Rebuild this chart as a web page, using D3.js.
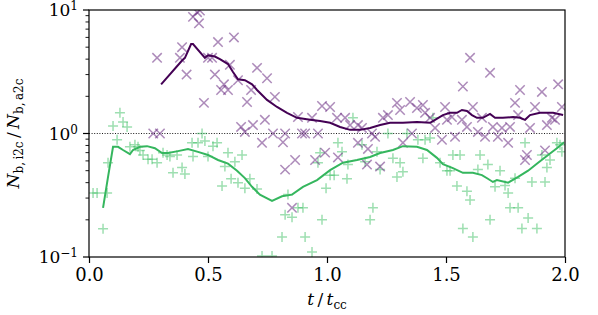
<!DOCTYPE html>
<html>
<head>
<meta charset="utf-8">
<script src="https://d3js.org/d3.v7.min.js"></script>
<style>
  body { margin: 0; background: #fff; }
  svg { display: block; font-family: "DejaVu Serif", serif; }
</style>
</head>
<body>
<div id="chart"></div>
<script>
// time in units of t_cc, ratio N_b,i2c / N_b,a2c
const purpleScatter = [
  [0.454, 9.6], [0.437, 8.8], [0.462, 7.8], [0.466, 9.9], [0.286, 4.1], [0.391, 5.0], [0.382, 4.1],
  [0.41, 3.0], [0.542, 5.5], [0.609, 6.0], [0.50, 4.1], [0.517, 4.1], [0.529, 3.0], [0.567, 2.5],
  [0.555, 2.25], [0.584, 2.25], [0.592, 3.6], [0.483, 1.77], [0.626, 2.7], [0.664, 1.8], [0.681, 2.25],
  [0.706, 3.4], [0.748, 2.8], [0.781, 1.98], [0.639, 1.13], [0.655, 1.03], [0.689, 1.17], [0.739, 1.29],
  [0.27, 1.0], [0.298, 1.0], [0.727, 0.84], [0.773, 1.0], [0.824, 1.0], [0.815, 0.85], [0.824, 0.51],
  [0.866, 0.61], [0.853, 0.25], [0.878, 1.36], [0.937, 1.34], [0.979, 1.67], [1.013, 1.64], [1.042, 1.34],
  [1.076, 1.34], [1.097, 1.17], [1.13, 1.17], [1.147, 1.11], [0.895, 1.0], [0.908, 1.0], [0.962, 1.0],
  [0.992, 0.70], [1.046, 0.64], [1.13, 0.84], [1.189, 1.0], [1.202, 0.94], [1.235, 1.34], [1.256, 1.41],
  [1.294, 1.77], [1.307, 1.55], [1.349, 1.80], [1.378, 1.61], [1.403, 1.70], [1.433, 1.34], [1.454, 1.11],
  [1.483, 0.89], [1.496, 1.64], [1.525, 1.36], [1.538, 0.94], [1.567, 1.29], [1.571, 2.4], [1.601, 4.1],
  [1.613, 1.64], [1.588, 1.13], [1.634, 1.03], [1.651, 1.34], [1.664, 0.94], [1.685, 3.1], [1.697, 1.13],
  [1.718, 0.94], [1.735, 1.11], [1.761, 0.84], [1.769, 1.13], [1.79, 1.77], [1.811, 2.25], [1.803, 1.41],
  [1.853, 1.11], [1.874, 1.64], [1.903, 2.17], [1.924, 1.17], [1.945, 1.34], [1.971, 2.5], [1.987, 1.64],
  [0.95, 0.61], [1.168, 0.56], [1.223, 0.54], [1.172, 0.75], [1.319, 0.84], [1.357, 1.0], [1.412, 1.47],
  [1.504, 1.29], [1.832, 0.61], [1.84, 0.67], [1.916, 0.73], [1.958, 1.29]
];

const purpleLine = [
  [0.303, 2.5], [0.391, 3.9], [0.403, 4.1], [0.429, 5.3], [0.437, 5.3], [0.487, 4.1], [0.50, 4.3],
  [0.529, 4.2], [0.55, 4.0], [0.584, 3.65], [0.605, 3.15], [0.626, 2.75], [0.655, 2.7], [0.685, 2.5],
  [0.706, 2.25], [0.748, 1.87], [0.79, 1.64], [0.832, 1.47], [0.874, 1.34], [0.929, 1.29], [0.971, 1.26],
  [1.013, 1.22], [1.055, 1.13], [1.097, 1.07], [1.139, 1.07], [1.181, 1.11], [1.223, 1.17], [1.265, 1.22],
  [1.319, 1.22], [1.378, 1.24], [1.433, 1.22], [1.454, 1.29], [1.487, 1.41], [1.517, 1.47], [1.546, 1.47],
  [1.567, 1.55], [1.588, 1.52], [1.609, 1.41], [1.63, 1.34], [1.655, 1.34], [1.685, 1.44], [1.706, 1.34],
  [1.739, 1.34], [1.782, 1.36], [1.811, 1.34], [1.832, 1.29], [1.853, 1.41], [1.895, 1.47], [1.95, 1.47],
  [1.992, 1.41]
];

const greenScatter = [
  [0.017, 0.33], [0.034, 0.33], [0.059, 0.169], [0.076, 0.33], [0.08, 0.58], [0.101, 1.15], [0.118, 0.89],
  [0.13, 1.47], [0.143, 1.24], [0.16, 1.13], [0.172, 0.78], [0.193, 0.81], [0.206, 0.78], [0.214, 0.73],
  [0.227, 0.67], [0.248, 0.62], [0.265, 0.62], [0.286, 0.58], [0.311, 0.70], [0.328, 0.67], [0.34, 0.65],
  [0.353, 0.48], [0.37, 0.67], [0.391, 0.53], [0.403, 0.47], [0.433, 0.84], [0.437, 0.65], [0.458, 0.84],
  [0.475, 1.0], [0.487, 0.87], [0.50, 0.65], [0.521, 0.79], [0.538, 0.84], [0.559, 0.376], [0.571, 0.54],
  [0.584, 0.70], [0.597, 0.43], [0.613, 0.59], [0.626, 0.40], [0.643, 0.67], [0.655, 0.36], [0.676, 0.43],
  [0.706, 0.355], [0.727, 0.102], [0.769, 0.102], [0.811, 0.145], [0.824, 0.22], [0.836, 0.32], [0.853, 0.21],
  [0.878, 0.25], [0.899, 0.25], [0.908, 0.145], [0.937, 0.11], [0.979, 0.20], [0.962, 0.58], [0.971, 0.70],
  [0.996, 0.36], [1.013, 0.46], [1.03, 0.46], [1.046, 0.84], [1.063, 0.71], [1.084, 0.43], [1.088, 0.56],
  [1.109, 1.34], [1.147, 0.81], [1.16, 0.59], [1.181, 0.20], [1.193, 0.25], [1.21, 0.71], [1.223, 0.51],
  [1.256, 1.0], [1.277, 0.63], [1.294, 0.445], [1.307, 0.58], [1.319, 0.49], [1.336, 1.0], [1.382, 0.89],
  [1.412, 0.89], [1.433, 0.92], [1.403, 0.63], [1.445, 1.34], [1.475, 0.58], [1.504, 0.50], [1.517, 0.50],
  [1.529, 0.67], [1.559, 0.67], [1.546, 0.376], [1.588, 0.34], [1.601, 0.29], [1.571, 0.17], [1.613, 0.145],
  [1.643, 0.67], [1.676, 0.56], [1.634, 0.51], [1.685, 0.20], [1.706, 0.37], [1.727, 0.50], [1.748, 0.38],
  [1.761, 0.33], [1.769, 0.25], [1.803, 0.25], [1.79, 0.435], [1.832, 0.84], [1.819, 0.17], [1.845, 0.207],
  [1.861, 0.405], [1.882, 0.17], [1.903, 0.67], [1.916, 0.405], [1.924, 0.53], [1.937, 0.61], [1.966, 0.84],
  [1.987, 0.71], [1.979, 0.81]
];

const greenLine = [
  [0.059, 0.25], [0.08, 0.445], [0.101, 0.78], [0.122, 0.78], [0.143, 0.735], [0.172, 0.68], [0.185, 0.735],
  [0.214, 0.78], [0.244, 0.79], [0.277, 0.76], [0.307, 0.695], [0.332, 0.695], [0.374, 0.72], [0.416, 0.75],
  [0.458, 0.71], [0.50, 0.67], [0.542, 0.61], [0.584, 0.57], [0.622, 0.50], [0.655, 0.435], [0.685, 0.37],
  [0.718, 0.32], [0.769, 0.285], [0.811, 0.31], [0.853, 0.32], [0.899, 0.37], [0.958, 0.42], [1.013, 0.505],
  [1.067, 0.58], [1.126, 0.61], [1.181, 0.645], [1.223, 0.695], [1.277, 0.735], [1.319, 0.79], [1.378, 0.78],
  [1.42, 0.735], [1.462, 0.635], [1.487, 0.565], [1.529, 0.525], [1.571, 0.48], [1.613, 0.48], [1.651, 0.46],
  [1.676, 0.43], [1.697, 0.405], [1.714, 0.42], [1.761, 0.40], [1.803, 0.445], [1.845, 0.50], [1.887, 0.58],
  [1.929, 0.67], [1.966, 0.76], [1.996, 0.85]
];

const xTicks = [0, 0.5, 1.0, 1.5, 2.0];
const yTicks = [0.1, 1, 10];
const yTickExp = ["\u22121", "0", "1"];

const width = 598, height = 315;
const margin = {top: 10, right: 33, bottom: 58, left: 89};

const svg = d3.select("#chart").append("svg")
    .attr("width", width)
    .attr("height", height);

const x = d3.scaleLinear().domain([0, 2]).range([margin.left, width - margin.right]);
const y = d3.scaleLog().domain([0.1, 10]).range([height - margin.bottom, margin.top]);

svg.append("clipPath").attr("id", "clip")
  .append("rect")
    .attr("x", margin.left).attr("y", margin.top)
    .attr("width", x(2) - x(0)).attr("height", y(0.1) - y(10));

const plot = svg.append("g").attr("clip-path", "url(#clip)");

// reference line at 1
plot.append("line")
    .attr("x1", x(0)).attr("x2", x(2))
    .attr("y1", y(1)).attr("y2", y(1))
    .attr("stroke", "#000")
    .attr("stroke-width", 0.9)
    .attr("stroke-dasharray", "1,1.6");

const s = 5;
// green plus markers
plot.append("g").selectAll("path")
  .data(greenScatter)
  .join("path")
    .attr("d", d => `M${x(d[0]) - s},${y(d[1])}h${2 * s}M${x(d[0])},${y(d[1]) - s}v${2 * s}`)
    .attr("stroke", "#3dbf63")
    .attr("stroke-opacity", 0.5)
    .attr("stroke-width", 1.5)
    .attr("fill", "none");

// purple x markers
const k = 4.7;
plot.append("g").selectAll("path")
  .data(purpleScatter)
  .join("path")
    .attr("d", d => `M${x(d[0]) - k},${y(d[1]) - k}l${2 * k},${2 * k}M${x(d[0]) - k},${y(d[1]) + k}l${2 * k},${-2 * k}`)
    .attr("stroke", "#6a2c82")
    .attr("stroke-opacity", 0.55)
    .attr("stroke-width", 1.5)
    .attr("fill", "none");

const line = d3.line().x(d => x(d[0])).y(d => y(d[1]));

plot.append("path")
    .datum(greenLine)
    .attr("d", line)
    .attr("fill", "none")
    .attr("stroke", "#35b65e")
    .attr("stroke-width", 2);

plot.append("path")
    .datum(purpleLine)
    .attr("d", line)
    .attr("fill", "none")
    .attr("stroke", "#440154")
    .attr("stroke-width", 2);

// axes
const xAxis = svg.append("g")
    .attr("transform", `translate(0,${y(0.1)})`)
    .call(d3.axisBottom(x).tickValues(xTicks).tickSize(6).tickPadding(5).tickFormat(d3.format(".1f")));
xAxis.select(".domain").remove();
xAxis.selectAll("line").attr("stroke-width", 1.2);
xAxis.selectAll("text").attr("font-size", 18).attr("fill", "#000")
    .attr("font-family", "DejaVu Serif");

const minorY = [];
[0.1, 1].forEach(dec => { for (let i = 2; i <= 9; i++) minorY.push(dec * i); });

const yAxis = svg.append("g").attr("transform", `translate(${x(0)},0)`);
yAxis.selectAll("line.minor")
  .data(minorY)
  .join("line")
    .attr("class", "minor")
    .attr("x1", 0).attr("x2", -3.5)
    .attr("y1", d => y(d)).attr("y2", d => y(d))
    .attr("stroke", "#000").attr("stroke-width", 0.9);
yAxis.selectAll("line.major")
  .data(yTicks)
  .join("line")
    .attr("class", "major")
    .attr("x1", 0).attr("x2", -6)
    .attr("y1", d => y(d)).attr("y2", d => y(d))
    .attr("stroke", "#000").attr("stroke-width", 1.2);

const ylab = yAxis.selectAll("text.tick")
  .data(yTicks)
  .join("text")
    .attr("class", "tick")
    .attr("x", -11)
    .attr("y", d => y(d) + 6)
    .attr("text-anchor", "end")
    .attr("font-size", 17)
    .attr("fill", "#000");
ylab.append("tspan").text("10");
ylab.append("tspan")
    .attr("dy", -6)
    .attr("font-size", 12)
    .text((d, i) => yTickExp[i]);

// frame
svg.append("rect")
    .attr("x", x(0)).attr("y", y(10))
    .attr("width", x(2) - x(0)).attr("height", y(0.1) - y(10))
    .attr("fill", "none")
    .attr("stroke", "#000")
    .attr("stroke-width", 1.2);

// x label
const xl = svg.append("text")
    .attr("x", (x(0) + x(2)) / 2)
    .attr("y", 305)
    .attr("text-anchor", "middle")
    .attr("font-size", 17)
    .attr("fill", "#000");
xl.append("tspan").attr("font-style", "italic").text("t");
xl.append("tspan").text("\u2009/\u2009");
xl.append("tspan").attr("font-style", "italic").text("t");
xl.append("tspan").attr("dy", 4).attr("font-size", 12).text("cc");

// y label
const yl = svg.append("text")
    .attr("transform", `translate(19,${(y(10) + y(0.1)) / 2}) rotate(-90)`)
    .attr("text-anchor", "middle")
    .attr("font-size", 17)
    .attr("fill", "#000");
yl.append("tspan").attr("font-style", "italic").text("N");
yl.append("tspan").attr("dy", 4).attr("font-size", 12).text("b,\u2009i2c");
yl.append("tspan").attr("dy", -4).text("\u2009/\u2009");
yl.append("tspan").attr("font-style", "italic").text("N");
yl.append("tspan").attr("dy", 4).attr("font-size", 12).text("b,\u2009a2c");
</script>
</body>
</html>
